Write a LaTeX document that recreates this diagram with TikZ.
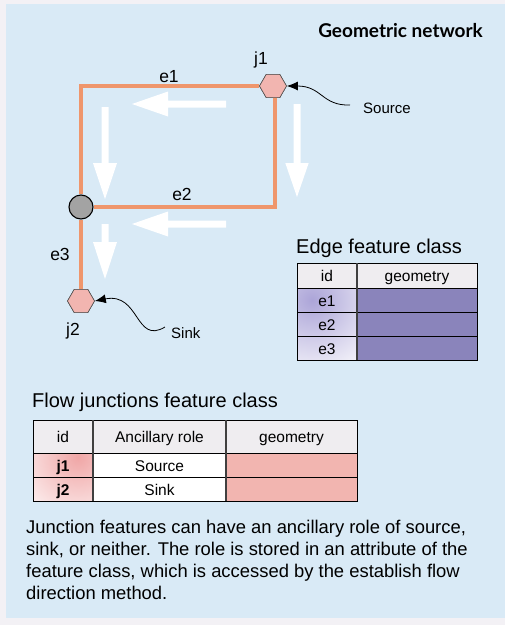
\documentclass[tikz,border=0pt]{standalone}
\usepackage{fontspec}
\setmainfont{Liberation Sans}
\newfontfamily\titlefont{Lato}
\usetikzlibrary{shapes.geometric,arrows.meta}
\definecolor{panel}{RGB}{217,234,246}
\definecolor{leftstrip}{RGB}{243,241,245}
\definecolor{edgeor}{RGB}{239,150,108}
\definecolor{hexfill}{RGB}{242,181,176}
\definecolor{hexline}{RGB}{80,80,80}
\definecolor{circfill}{RGB}{163,163,163}
\definecolor{purp}{RGB}{138,132,187}
\definecolor{hdr}{RGB}{239,237,240}
\definecolor{lav}{RGB}{172,165,216}
\definecolor{pinkg}{RGB}{240,166,166}
\begin{document}
\begin{tikzpicture}[x=1pt,y=-1pt,
  hexnode/.style={regular polygon, regular polygon sides=6, minimum size=27pt, inner sep=0pt, fill=hexfill, draw=hexline, line width=0.6pt},
  junc/.style={circle, minimum size=24pt, inner sep=0pt, fill=circfill, draw=black, line width=1.1pt},
  netedge/.style={draw=edgeor, line width=3.6pt},
  lbl/.style={inner sep=0pt, font=\fontsize{17.5}{20}\selectfont},
  small/.style={inner sep=0pt, font=\fontsize{15}{18}\selectfont},
  cell/.style={inner sep=0pt, anchor=base, font=\fontsize{15.5}{18}\selectfont},
  caption/.style={inner sep=0pt, font=\fontsize{20}{24}\selectfont},
  pointer/.style={line width=0.8pt, -{Latex[length=11pt,width=9pt]}},
  flowarrow/.style={fill=white, draw=none},
  grid/.style={draw=black, line width=0.9pt},
  colsep/.style={draw=black!75, line width=1.4pt}
]
\useasboundingbox (0,0) rectangle (505,625);
\fill[leftstrip] (0,0) rectangle (505,625);
\fill[panel] (6,4) rectangle (505,618);

% title
\node[inner sep=0pt, anchor=base east, font=\titlefont\bfseries\fontsize{19}{22}\selectfont] (title) at (483,37) {Geometric network};

% white flow arrows
\path[flowarrow] (226,100.5) -- (168,100.5) -- (168,91.5) -- (132,104) -- (168,116.5) -- (168,107.5) -- (226,107.5) -- cycle;
\path[flowarrow] (226,220.5) -- (168,220.5) -- (168,211.5) -- (132,224) -- (168,236.5) -- (168,227.5) -- (226,227.5) -- cycle;
\path[flowarrow] (101.5,107) -- (101.5,163) -- (93,163) -- (105,199) -- (117,163) -- (108.5,163) -- (108.5,107) -- cycle;
\path[flowarrow] (293.5,104) -- (293.5,163) -- (285.3,163) -- (297,197) -- (308.7,163) -- (300.5,163) -- (300.5,104) -- cycle;
\path[flowarrow] (101.5,224) -- (101.5,242) -- (93,242) -- (105,279) -- (117,242) -- (108.5,242) -- (108.5,224) -- cycle;

% network
\node[hexnode] (j1) at (273,86) {};
\node[junc] (c) at (81,207) {};
\node[hexnode] (j2) at (81,301) {};
\coordinate (j1s) at (275,97);
\draw[netedge] (j1.west) -| (c.north);
\draw[netedge] (j1s) |- (c.east);
\draw[netedge] (c.south) -- (j2.north);
\node[hexnode] at (j1) {};
\node[hexnode] at (j2) {};

\node[lbl, anchor=base] (le1) at (169,82) {e1};
\node[lbl, anchor=base] (lj1) at (261,64) {j1};
\node[lbl, anchor=base] (le2) at (182,200) {e2};
\node[lbl, anchor=base] (le3) at (60,260) {e3};
\node[lbl, anchor=base] (lj2) at (73,335) {j2};

\node[small, anchor=base west] (src) at (363,113) {Source};
\node[small, anchor=base west] (snk) at (171,338) {Sink};
\coordinate (srcend) at (350,105);
\coordinate (snkend) at (165,327);
\draw[pointer] (srcend) .. controls (322,106) and (322,86) .. (j1.east);
\draw[pointer] (snkend) .. controls (135,345) and (140,292) .. (j2.east);

% edge feature class table
\node[caption, anchor=base west] (etitle) at (296,253) {Edge feature class};
\fill[hdr] (297,263) rectangle (477,288);
\fill[white] (297,288) rectangle (357,360);
\begin{scope}
\clip (297,288) rectangle (357,360);
\shade[inner color=lav, outer color=white] (312,300) circle (88);
\end{scope}
\fill[purp] (357,288) rectangle (477,360);
\draw[grid] (297,263) rectangle (477,360);
\draw[grid] (297,288) -- (477,288);
\draw[grid] (297,312) -- (477,312);
\draw[grid] (297,336) -- (477,336);
\draw[colsep] (357,263) -- (357,360);
\node[cell] (eh1) at (327,281.5) {id};
\node[cell] (eh2) at (417,281.5) {geometry};
\node[cell] (er1) at (327,306) {e1};
\node[cell] (er2) at (327,330) {e2};
\node[cell] (er3) at (327,354) {e3};

% flow junctions feature class table
\node[caption, anchor=base west] (ftitle) at (32,407) {Flow junctions feature class};
\fill[hdr] (33,420) rectangle (357,453);
\fill[white] (33,453) rectangle (226,501);
\begin{scope}
\clip (33,453) rectangle (93,501);
\shade[inner color=pinkg, outer color=white] (78,457) circle (80);
\end{scope}
\fill[hexfill] (226,453) rectangle (357,501);
\draw[grid] (33,420) rectangle (357,501);
\draw[grid] (33,453) -- (357,453);
\draw[grid] (33,477) -- (357,477);
\draw[colsep] (93,420) -- (93,501);
\draw[colsep] (226,420) -- (226,501);
\node[cell] (fh1) at (63,442) {id};
\node[cell] (fh2) at (159.5,442) {Ancillary role};
\node[cell] (fh3) at (291.5,442) {geometry};
\node[cell, font=\fontsize{15.5}{18}\selectfont\bfseries] (fr1) at (63,471.5) {j1};
\node[cell] (fr1b) at (159.5,471.5) {Source};
\node[cell, font=\fontsize{15.5}{18}\selectfont\bfseries] (fr2) at (63,495.5) {j2};
\node[cell] (fr2b) at (159.5,495.5) {Sink};

% paragraph
\node[inner sep=0pt, anchor=north west, align=left, font=\fontsize{18.4}{22}\selectfont] (para) at (26,520)
{Junction features can have an ancillary role of source,\\
sink, or neither. The role is stored in an attribute of the\\
feature class, which is accessed by the establish flow\\
direction method.};
\end{tikzpicture}
\end{document}
